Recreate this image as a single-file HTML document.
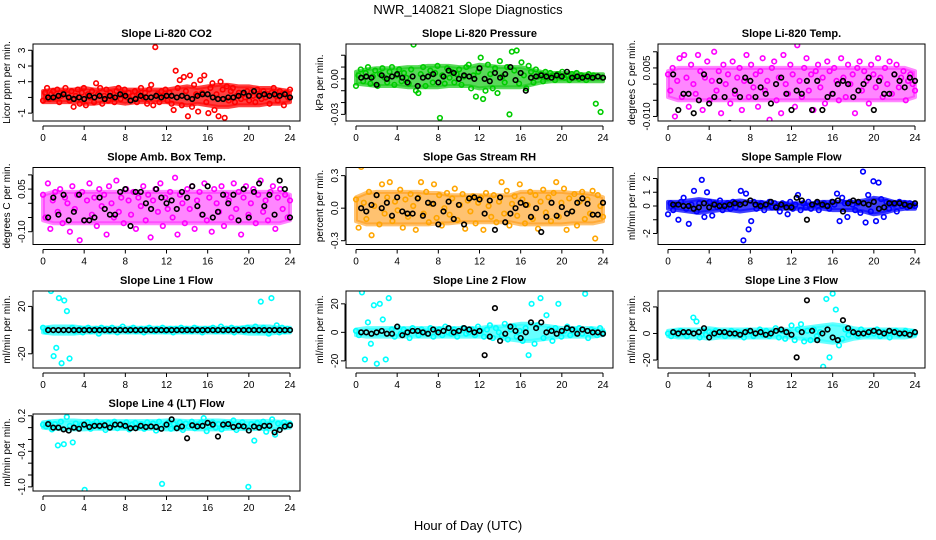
<!DOCTYPE html>
<html><head><meta charset="utf-8"><style>
html,body{margin:0;padding:0;background:#fff;}
svg{display:block;font-family:"Liberation Sans",sans-serif;}
</style></head><body>
<svg id="chart" width="936" height="540" viewBox="0 0 936 540" xmlns="http://www.w3.org/2000/svg">
<rect width="936" height="540" fill="#fff"/>
<text x="468" y="14" font-size="13" text-anchor="middle">NWR_140821  Slope Diagnostics</text>
<text x="468" y="530" font-size="13" text-anchor="middle">Hour of Day (UTC)</text>
</svg>
<script>
const xTicks = [0,4,8,12,16,20,24];
const envHours = [0,1,2,3,4,5,6,7,8,9,10,11,12,13,14,15,16,17,18,19,20,21,22,23,24];
const titles = ["Slope Li-820 CO2","Slope Li-820 Pressure","Slope Li-820 Temp.","Slope Amb. Box Temp.","Slope Gas Stream RH","Slope Sample Flow","Slope Line 1 Flow","Slope Line 2 Flow","Slope Line 3 Flow","Slope Line 4 (LT) Flow"];
const yTitles = ["Licor ppm per min.","kPa per min.","degrees C per min.","degrees C per min.","percent per min.","ml/min per min.","ml/min per min.","ml/min per min.","ml/min per min.","ml/min per min."];
const colors = ["#ff0000","#00cc00","#ff00ff","#ff00ff","#ffa500","#0000ff","#00ffff","#00ffff","#00ffff","#00ffff"];
const bandColors = ["#ff1010","#22cc22","#ff22ff","#ff22ff","#ff9a10","#1010ff","#33ffff","#33ffff","#33ffff","#33ffff"];
const bandOpacity = [0.8,0.75,0.55,0.55,0.6,0.8,0.8,0.75,0.75,0.8];
const yRanges = [[-1.5,3.4],[-0.0356,0.0295],[-0.0114,0.0124],[-0.145,0.126],[-0.335,0.375],[-2.8,2.8],[-32,33],[-25,29],[-26,32],[-1.07,0.23]];
const yTickVals = [[-1,0,1,2,3],[-0.03,-0.02,-0.01,0,0.01,0.02],[-0.01,-0.005,0,0.005,0.01],[-0.1,-0.05,0,0.05,0.1],[-0.3,0,0.3],[-2,-1,0,1,2],[-20,0,20],[-20,0,20],[-20,0,20],[-1.0,-0.8,-0.6,-0.4,-0.2,0,0.2]];
const yTickLabels = [["-1","","1","2","3"],["-0.03","","","0.00","",""],["-0.010","","","0.005",""],["-0.10","","","0.05",""],["-0.3","0.0","0.3"],["-2","","0","1","2"],["-20","","20"],["-20","0","20"],["-20","0","20"],["-1.0","","","-0.4","","","0.2"]];

const co2Lo = [-0.3,-0.3,-0.3,-0.3,-0.4,-0.4,-0.3,-0.3,-0.4,-0.3,-0.3,-0.3,-0.3,-0.4,-0.5,-0.4,-0.5,-0.6,-0.6,-0.5,-0.5,-0.5,-0.4,-0.4,-0.3];
const co2Hi = [0.4,0.5,0.5,0.5,0.6,0.5,0.5,0.6,0.5,0.5,0.5,0.5,0.5,0.6,0.7,0.6,0.7,0.8,0.8,0.7,0.7,0.6,0.6,0.5,0.4];
const presLo = [-0.004,-0.005,-0.006,-0.006,-0.006,-0.007,-0.007,-0.007,-0.007,-0.006,-0.006,-0.006,-0.008,-0.007,-0.007,-0.007,-0.007,-0.005,-0.003,-0.002,-0.002,-0.002,-0.002,-0.002,-0.002];
const presHi = [0.006,0.008,0.009,0.009,0.009,0.010,0.010,0.011,0.011,0.011,0.010,0.010,0.012,0.011,0.010,0.010,0.010,0.008,0.006,0.005,0.005,0.005,0.004,0.004,0.004];
const tempLo = [-0.004,-0.005,-0.005,-0.005,-0.005,-0.005,-0.005,-0.005,-0.005,-0.005,-0.005,-0.005,-0.005,-0.005,-0.005,-0.005,-0.005,-0.005,-0.005,-0.005,-0.005,-0.005,-0.005,-0.005,-0.004];
const tempHi = [0.004,0.005,0.005,0.005,0.005,0.005,0.005,0.005,0.005,0.005,0.005,0.005,0.005,0.005,0.005,0.005,0.005,0.005,0.005,0.005,0.005,0.005,0.005,0.005,0.004];
const ambLo = [-0.06,-0.07,-0.07,-0.07,-0.07,-0.07,-0.07,-0.07,-0.07,-0.07,-0.07,-0.07,-0.07,-0.07,-0.07,-0.07,-0.07,-0.07,-0.07,-0.07,-0.07,-0.07,-0.07,-0.07,-0.06];
const ambHi = [0.03,0.04,0.04,0.04,0.04,0.04,0.04,0.04,0.04,0.04,0.04,0.04,0.04,0.04,0.04,0.04,0.04,0.04,0.04,0.04,0.04,0.04,0.04,0.04,0.03];
const rhLo = [-0.12,-0.15,-0.15,-0.15,-0.15,-0.15,-0.15,-0.15,-0.14,-0.14,-0.13,-0.13,-0.13,-0.13,-0.13,-0.13,-0.15,-0.15,-0.15,-0.15,-0.15,-0.14,-0.14,-0.14,-0.12];
const rhHi = [0.10,0.14,0.15,0.15,0.15,0.15,0.15,0.14,0.14,0.12,0.12,0.12,0.12,0.12,0.12,0.12,0.15,0.15,0.15,0.15,0.15,0.14,0.14,0.13,0.10];
const flowLo = [-0.2,-0.3,-0.4,-0.5,-0.4,-0.3,-0.3,-0.4,-0.3,-0.2,-0.2,-0.2,-0.2,-0.2,-0.2,-0.2,-0.3,-0.3,-0.3,-0.4,-0.6,-0.5,-0.3,-0.2,-0.2];
const flowHi = [0.3,0.3,0.4,0.5,0.4,0.3,0.3,0.4,0.3,0.3,0.2,0.2,0.2,0.2,0.2,0.3,0.3,0.3,0.3,0.4,0.6,0.5,0.3,0.3,0.2];
const line1Lo = [-2,-3,-3,-3,-2,-2,-2,-2,-2,-2,-2,-2,-2,-2,-2,-2,-2,-2,-2,-2,-3,-3,-3,-2,-2];
const line1Hi = [2,3,3,3,2,2,2,2,2,2,2,2,2,2,2,2,2,2,2,2,3,3,3,2,2];
const line2Lo = [-2,-3,-3,-3,-3,-3,-3,-3,-3,-3,-3,-3,-3,-3,-4,-5,-6,-6,-5,-4,-3,-3,-3,-3,-2];
const line2Hi = [2,3,3,3,3,3,3,3,3,3,3,3,3,4,4,5,6,6,5,4,3,3,3,3,2];
const line3Lo = [-2,-3,-3,-3,-4,-3,-3,-3,-3,-3,-3,-3,-3,-4,-5,-6,-7,-6,-4,-3,-3,-3,-3,-3,-2];
const line3Hi = [2,3,3,3,4,3,3,3,3,3,3,3,3,4,5,6,7,6,4,3,3,3,3,3,2];
const line4Lo = [0.00,-0.02,-0.03,-0.03,-0.03,-0.02,-0.02,-0.02,-0.02,-0.02,-0.02,-0.02,-0.03,-0.03,-0.02,-0.03,-0.03,-0.03,-0.02,-0.02,-0.03,-0.02,-0.03,-0.02,0.00];
const line4Hi = [0.09,0.11,0.12,0.12,0.11,0.11,0.11,0.11,0.11,0.11,0.11,0.11,0.12,0.12,0.11,0.11,0.12,0.12,0.11,0.11,0.11,0.11,0.11,0.10,0.09];

const co2 = [-0.2,0.3,0.6,-0.1,0.2,0.4,0.0,0.5,-0.3,0.1,0.3,0.6,0.2,-0.2,0.4,-0.6,0.1,0.5,-0.4,0.3,0.6,-0.5,0.2,0.0,0.4,-0.3,0.9,0.2,0.6,-0.4,0.1,0.5,-0.2,0.3,0.0,-0.3,0.4,0.6,-0.1,0.2,0.5,0.0,0.3,-0.2,0.1,0.4,-0.3,0.2,0.6,0.0,0.3,-0.4,0.5,0.8,-0.5,3.2,0.2,-0.3,0.4,0.1,0.5,-0.2,0.3,-0.4,-0.8,1.7,0.6,1.1,-0.5,1.3,0.4,-1.2,1.4,-0.6,0.8,0.2,-0.9,1.1,0.3,1.4,-0.3,-1.0,0.6,0.9,-0.8,0.2,-1.2,1.0,0.5,-1.3,0.7,-0.2,0.4,0.6,-0.3,0.1,0.3,-0.1,0.2,0.0,0.4,-0.2,0.3,0.1,-0.3,0.5,0.2,-0.1,0.4,0.0,0.2,-0.4,0.3,0.6,0.1,-0.2,0.4,0.2,-0.5,0.3,0.0,0.5];
const co2Black = [0.0,0.0,0.1,0.2,0.0,-0.1,0.0,-0.1,0.1,0.0,0.1,-0.1,0.1,0.0,0.2,0.1,-0.2,-0.1,0.1,0.0,0.0,0.1,0.0,0.1,0.1,0.0,0.1,0.0,-0.1,0.1,0.2,0.2,0.0,-0.1,-0.1,0.0,0.0,0.1,0.3,0.1,0.4,0.1,0.2,0.1,0.2,0.1,0.2,0.0];
const pres = [-0.006,0.003,0.008,-0.002,0.005,0.010,-0.004,0.002,0.007,-0.006,0.004,0.009,0.001,-0.003,0.006,0.010,-0.005,0.003,0.008,-0.002,0.005,0.001,-0.004,0.008,0.029,-0.010,-0.012,0.004,0.010,-0.006,0.002,0.007,-0.003,0.005,0.011,-0.033,0.003,-0.004,0.009,0.001,0.006,-0.003,0.004,0.008,-0.005,0.002,0.010,0.012,-0.008,0.003,-0.015,0.006,0.018,-0.017,-0.010,0.012,0.004,-0.008,0.009,-0.012,0.015,0.002,-0.003,0.010,-0.030,0.023,0.007,0.024,-0.004,0.014,0.003,-0.008,0.011,0.006,-0.003,0.008,0.002,0.004,-0.002,0.006,0.001,0.005,0.003,-0.001,0.004,0.002,0.006,0.001,0.003,-0.001,0.004,0.002,0.005,0.000,0.003,0.002,-0.001,0.004,0.001,0.003,-0.021,0.002,-0.028,0.001];
const presBlack = [0.001,0.002,0.001,-0.005,0.003,0.000,0.002,0.004,0.001,-0.003,0.002,-0.006,0.001,0.002,0.004,-0.003,0.002,0.007,0.005,0.000,0.003,0.002,0.000,0.009,0.000,-0.002,0.005,0.001,0.004,0.010,-0.001,0.005,-0.010,0.001,0.002,0.003,0.002,0.001,0.003,0.002,0.006,0.001,0.002,0.001,0.002,0.001,0.002,0.001];
const temp = [0.003,-0.002,0.005,-0.010,0.001,0.008,-0.004,0.009,0.002,-0.007,0.006,0.000,-0.003,0.009,0.004,-0.008,0.002,0.007,-0.005,0.001,0.010,-0.002,0.004,-0.009,0.006,0.000,0.003,-0.006,0.007,-0.003,0.002,0.005,-0.008,0.001,0.009,-0.004,0.006,-0.001,0.003,-0.007,0.004,0.008,-0.002,0.001,-0.011,0.005,0.007,-0.005,0.002,-0.009,0.009,0.000,-0.003,0.006,0.003,-0.007,0.012,0.001,-0.004,0.005,0.008,-0.002,0.003,-0.008,0.004,0.006,-0.001,0.002,-0.006,0.007,0.004,-0.003,0.005,0.001,-0.005,0.008,0.002,-0.004,0.006,0.000,0.003,-0.009,0.005,0.007,-0.002,0.004,0.001,-0.006,0.006,0.003,-0.001,0.008,0.002,-0.004,0.005,0.000,0.007,-0.003,0.003,0.006,-0.001,0.002,0.004,-0.005,0.001,0.003,0.000,-0.002];
const tempBlack = [0.003,-0.008,-0.003,-0.003,-0.009,-0.005,0.003,-0.006,-0.004,0.001,-0.004,-0.012,-0.002,-0.004,0.002,0.001,-0.004,-0.001,-0.003,-0.006,0.000,0.002,-0.003,-0.008,-0.002,-0.003,0.001,-0.008,0.001,-0.008,-0.004,-0.003,0.000,0.001,0.000,-0.004,-0.002,0.000,0.002,-0.008,0.001,-0.003,-0.003,0.003,0.001,-0.001,0.002,0.001];
const amb = [0.03,-0.05,0.07,-0.09,0.01,0.04,-0.03,0.05,-0.07,0.02,0.00,-0.10,0.06,-0.02,0.03,-0.13,0.04,-0.06,0.01,0.07,-0.04,0.02,-0.08,0.05,-0.01,0.03,-0.11,0.06,0.00,-0.05,0.08,-0.03,0.02,-0.07,0.05,0.01,-0.04,0.04,-0.09,0.02,-0.01,0.06,-0.06,0.03,-0.12,0.01,0.05,-0.03,0.07,-0.08,0.02,-0.02,0.04,-0.05,0.09,-0.11,0.03,0.00,-0.07,0.05,-0.02,0.06,-0.09,0.01,0.04,-0.04,0.07,-0.06,0.02,-0.10,0.05,0.00,-0.03,0.06,-0.08,0.03,0.01,-0.05,0.07,-0.02,0.04,-0.11,0.02,0.06,-0.04,0.00,0.05,-0.07,0.03,0.08,-0.03,0.01,-0.06,0.04,0.06,-0.09,0.02,0.05,-0.02,0.03,-0.05,0.01];
const ambBlack = [-0.05,0.02,-0.04,0.03,-0.06,-0.03,0.03,-0.06,-0.06,-0.05,0.02,-0.02,-0.04,-0.04,0.04,0.05,-0.08,0.04,0.04,0.00,-0.02,0.05,0.02,0.00,0.01,-0.02,0.04,0.02,0.06,-0.01,-0.04,0.06,-0.05,-0.03,0.03,0.00,0.03,-0.06,0.05,-0.05,0.04,0.07,-0.01,0.03,-0.04,0.08,0.05,-0.05];
const rh = [0.08,-0.18,0.38,0.05,-0.10,0.15,-0.25,0.02,0.12,-0.15,0.22,-0.05,0.10,0.24,-0.12,0.06,-0.02,0.17,-0.18,0.08,-0.08,0.13,0.02,-0.20,0.10,0.24,-0.05,0.15,-0.13,0.04,0.22,-0.09,0.12,-0.16,0.00,0.14,-0.06,0.09,0.18,-0.11,0.03,0.13,-0.19,0.07,-0.03,0.11,-0.14,0.05,0.10,-0.20,0.14,0.02,-0.08,0.12,-0.13,0.06,0.24,-0.05,0.16,-0.16,0.04,0.11,-0.07,0.22,0.08,-0.14,0.03,0.15,-0.10,0.12,-0.19,0.06,0.17,-0.04,0.10,-0.12,0.14,0.24,-0.08,0.05,0.18,-0.20,0.09,-0.03,0.13,-0.16,0.06,0.15,-0.10,0.08,-0.05,0.16,-0.28,0.12,0.02,-0.08];
const rhBlack = [0.00,-0.03,0.03,0.12,0.00,0.05,-0.07,0.10,-0.03,-0.05,-0.05,0.09,-0.07,0.05,0.04,-0.15,-0.03,0.06,-0.10,0.03,-0.15,0.09,0.10,0.08,-0.05,0.07,-0.20,0.10,-0.13,-0.05,0.00,0.05,0.03,-0.08,0.00,-0.22,-0.08,0.05,-0.07,0.01,-0.05,-0.03,0.05,0.09,0.04,-0.06,-0.06,0.05];
const flow = [-0.6,0.2,-0.3,0.1,-1.0,0.3,0.6,-0.2,-1.3,0.1,1.1,-0.4,0.2,1.9,-0.8,1.0,0.3,-0.7,0.2,-0.1,0.4,-0.3,0.1,0.2,-0.2,0.3,-0.1,0.2,1.1,-2.5,0.9,-1.7,-1.1,0.3,-0.2,0.1,0.2,-0.3,0.1,0.3,-0.1,0.2,0.0,-0.4,0.2,0.1,-0.6,0.3,-0.2,0.1,0.8,-0.3,0.2,-0.1,0.3,-0.2,0.1,0.2,-0.3,0.1,0.2,0.0,-0.2,0.3,0.1,0.9,-1.1,0.6,0.2,-0.8,0.3,0.1,-0.3,0.2,-0.5,2.5,-1.2,0.8,-0.4,1.8,-1.1,1.7,0.5,-0.8,0.3,-0.2,0.2,0.1,-0.4,0.3,0.0,0.2,-0.1,0.2,0.1,0.0];
const flowBlack = [0.1,0.1,0.0,0.0,-0.2,-0.1,0.2,-0.1,0.1,0.0,0.0,0.1,0.2,0.1,0.2,0.4,0.1,0.0,0.1,0.3,-0.1,0.1,-0.1,-0.1,0.6,0.4,-1.0,0.1,0.3,0.1,0.0,0.3,0.4,-0.4,0.2,0.4,0.3,0.2,0.1,0.3,-0.2,-0.1,0.2,0.2,0.2,0.1,0.0,0.2];
const line1 = [2,-1,1,33,-22,-15,27,-28,25,16,-24,2,-1,0,1,-2,1,2,-1,0,1,-3,2,0,1,-1,2,0,-2,1,3,0,-1,1,2,-1,0,1,-2,1,2,0,-1,1,0,2,-1,0,1,-2,1,0,2,-1,1,0,-1,2,1,0,-2,1,0,1,2,-1,0,3,-1,1,0,2,-2,1,0,1,-1,2,0,1,3,-1,24,2,0,-3,27,1,4,-2,2,-1,1,0];
const line1Black = [0,0,0,0,0,0,0,0,0,0,0,0,0,0,0,0,0,0,0,0,0,0,0,0,0,0,0,0,0,0,0,0,0,0,0,0,0,0,0,0,0,0,0,0,0,0,0,0];
const line2 = [1,-2,28,-19,7,-8,19,-22,20,9,-19,24,2,-3,4,-1,2,0,-4,3,1,-2,2,0,-1,3,-3,1,2,-2,4,0,-1,2,-3,1,3,-1,0,2,-2,4,1,-3,2,5,-4,3,0,-2,6,-5,2,4,-3,1,-6,3,-16,20,-8,5,24,-4,12,2,-6,3,20,-3,1,4,-2,2,0,3,-1,27,-4,2,1,-2,3,0];
const line2Black = [0,0,-1,0,1,-1,-1,4,-2,0,1,1,0,-1,2,0,1,3,0,1,3,2,0,1,-16,-3,17,-6,-1,4,1,-4,0,7,3,7,0,1,-1,1,3,2,-1,2,1,0,0,-1];
const line3 = [0,-2,1,-1,2,0,-2,1,12,9,-3,2,-1,1,0,2,-1,1,-2,0,2,-1,1,0,-3,2,1,-2,0,3,-1,2,-2,1,4,-3,2,-4,1,6,-5,3,7,-6,2,-5,3,-2,1,-25,26,-18,30,18,-9,-4,3,-1,2,0,-2,3,1,-1,2,0,3,-2,1,0,-3,1,2,-1,0,2,-1,1,0];
const line3Black = [1,0,1,1,0,1,4,-3,0,1,1,0,0,-1,1,2,0,1,-1,0,2,3,1,-1,-18,1,25,2,-5,0,3,-3,-5,10,4,1,0,0,1,2,1,0,2,1,0,0,-1,1];
const line4 = [0.05,0.02,0.08,-0.03,0.06,-0.30,0.10,-0.28,0.18,0.03,-0.25,0.07,0.00,0.05,-1.05,0.09,-0.02,0.06,0.10,0.01,0.07,-0.04,0.08,0.03,0.10,-0.01,0.06,0.02,0.09,-0.03,0.05,0.08,0.01,0.06,-0.02,0.09,0.03,0.07,-0.05,0.10,-0.95,0.04,0.08,-0.02,0.06,0.01,0.09,-0.04,0.07,0.02,0.10,-0.01,0.05,0.08,0.16,-0.06,0.03,0.09,0.00,0.06,-0.03,0.08,0.02,0.07,0.12,-0.04,0.05,0.09,0.01,-1.0,0.06,-0.22,0.08,0.03,0.10,-0.07,0.05,0.14,-0.12,0.07,0.02,0.09,0.04,0.06];
const line4Black = [0.06,0.00,0.00,-0.03,-0.05,0.00,-0.02,0.05,0.01,0.03,0.03,0.04,0.00,0.05,0.05,0.03,-0.01,-0.01,0.03,0.01,0.02,0.01,-0.02,0.05,0.14,-0.01,0.02,-0.18,0.04,0.02,0.03,0.08,0.05,-0.15,0.05,0.06,0.01,0.03,0.02,-0.05,0.02,0.00,0.03,0.03,-0.08,-0.04,0.02,0.04];

const colored = [co2,pres,temp,amb,rh,flow,line1,line2,line3,line4];
const blacks = [co2Black,presBlack,tempBlack,ambBlack,rhBlack,flowBlack,line1Black,line2Black,line3Black,line4Black];
const bandLo = [co2Lo,presLo,tempLo,ambLo,rhLo,flowLo,line1Lo,line2Lo,line3Lo,line4Lo];
const bandHi = [co2Hi,presHi,tempHi,ambHi,rhHi,flowHi,line1Hi,line2Hi,line3Hi,line4Hi];

const svg = document.getElementById('chart');
const NS = 'http://www.w3.org/2000/svg';
function mk(tag, attrs, parent){const e=document.createElementNS(NS,tag);for(const k in attrs)e.setAttribute(k,attrs[k]);(parent||svg).appendChild(e);return e;}
const colLeft = [33,346,658], boxW = 267, rowTop = [44,167.5,291,414], boxH = 77;

for(let p=0;p<10;p++){
  const L = colLeft[p%3], T = rowTop[Math.floor(p/3)], R = L+boxW, B = T+boxH;
  const g = mk('g',{});
  
  
  const xs = h => L+10 + h/24*(boxW-20);
  const [y0,y1] = yRanges[p];
  const ys = v => B - (v-y0)/(y1-y0)*boxH;
  const t = mk('text',{x:(L+R)/2,y:T-7,'font-size':11,'font-weight':'bold','text-anchor':'middle'},g);
  t.textContent = titles[p];
  
  
  const yt = mk('text',{x:0,y:0,'font-size':10,'text-anchor':'middle',transform:`translate(${L-23},${(T+B)/2}) rotate(-90)`},g);
  yt.textContent = yTitles[p];
  
  
  const xa = mk('g',{},g);
  
  
  mk('line',{x1:xs(0),x2:xs(24),y1:B+5,y2:B+5,stroke:'#000'},xa);
  xTicks.forEach(v=>{
    mk('line',{x1:xs(v),x2:xs(v),y1:B+5,y2:B+9,stroke:'#000'},xa);
    const tl = mk('text',{x:xs(v),y:B+20,'font-size':10,'text-anchor':'middle'},xa);
    tl.textContent = v;
    
    
  });
  const ya = mk('g',{},g);
  
  
  const tv = yTickVals[p];
  mk('line',{x1:L-1,x2:L-1,y1:ys(tv[0]),y2:ys(tv[tv.length-1]),stroke:'#000'},ya);
  tv.forEach((v,i)=>{
    mk('line',{x1:L-5,x2:L-1,y1:ys(v),y2:ys(v),stroke:'#000'},ya);
    if(yTickLabels[p][i]){
      const tl = mk('text',{x:0,y:0,'font-size':10,'text-anchor':'middle',transform:`translate(${L-8},${ys(v)}) rotate(-90)`},ya);
      tl.textContent = yTickLabels[p][i];
      
      
    }
  });
  const cid='clip'+p;
  const cp = mk('clipPath',{id:cid},g);
  mk('rect',{x:L,y:T,width:boxW,height:boxH},cp);
  const pts = mk('g',{'clip-path':`url(#${cid})`},g);
  
  
  const lo = bandLo[p], hi = bandHi[p];
  let d = '';
  envHours.forEach((h,i)=>{ d += (i?'L':'M') + xs(h).toFixed(1) + ',' + ys(hi[i]).toFixed(1); });
  for(let i=envHours.length-1;i>=0;i--){ d += 'L' + xs(envHours[i]).toFixed(1) + ',' + ys(lo[i]).toFixed(1); }
  d += 'Z';
  const band = mk('path',{d:d,fill:bandColors[p],stroke:bandColors[p],'stroke-width':4,'stroke-linejoin':'round','fill-opacity':bandOpacity[p],'stroke-opacity':bandOpacity[p]},pts);
  
  
  const cs = colored[p];
  cs.forEach((v,i)=>{
    const h = i*24/(cs.length-1);
    const c = mk('circle',{cx:xs(h),cy:ys(v),r:2.3,fill:'none',stroke:colors[p],'stroke-width':1.6},pts);
    
    
  });
  const bs = blacks[p];
  bs.forEach((v,i)=>{
    const h = 0.5 + i*23.5/(bs.length-1);
    const c = mk('circle',{cx:xs(h),cy:ys(v),r:2.3,fill:'none',stroke:'#000','stroke-width':1.6},pts);
    
    
  });
  const box = mk('rect',{x:L,y:T,width:boxW,height:boxH,fill:'none',stroke:'#000','stroke-width':1},g);
  
  
}
</script>
</body></html>
